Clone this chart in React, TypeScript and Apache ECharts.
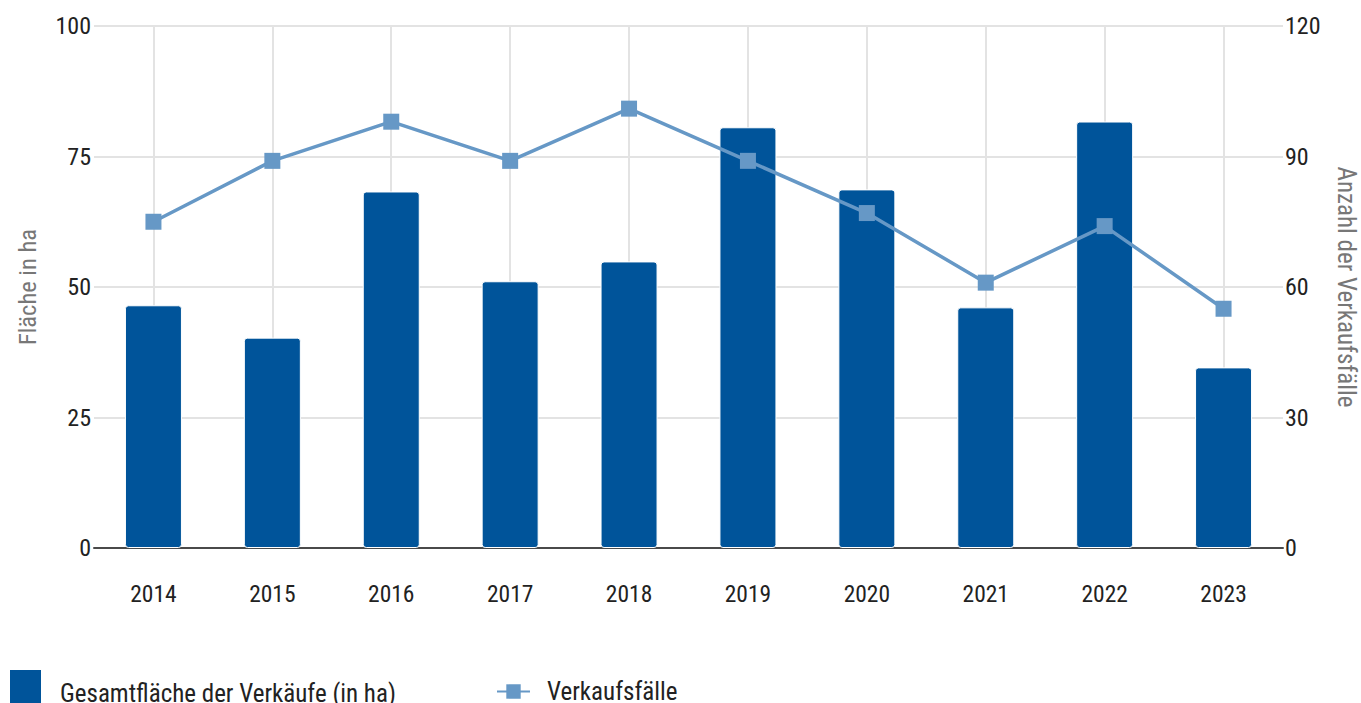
import React, { useEffect, useRef } from "react";
import * as echarts from "echarts";

const years = ["2014", "2015", "2016", "2017", "2018", "2019", "2020", "2021", "2022", "2023"];
const flaeche = [46.5, 40.3, 68.3, 51.1, 54.9, 80.6, 68.7, 46.1, 81.7, 34.6];
const faelle = [75, 89, 98, 89, 101, 89, 77, 61, 74, 55];
const leftTicks = { min: 0, max: 100, interval: 25 };
const rightTicks = { min: 0, max: 120, interval: 30 };

const FONT = "'Roboto Condensed', 'Liberation Sans Narrow', Roboto, sans-serif";

export default function App() {
  const ref = useRef<HTMLDivElement>(null);
  useEffect(() => {
    document.body.style.margin = "0";
    const chart = echarts.init(ref.current!, null, { renderer: "svg" });
    chart.setOption({
      animation: false,
      textStyle: { fontFamily: FONT },
      grid: { left: 94, right: 78, top: 26, bottom: 155, containLabel: false, outerBoundsMode: "none" },
      legend: [
        {
          data: [{ name: "Gesamtfläche der Verkäufe (in ha)", icon: "rect" }],
          left: 8,
          top: 668,
          padding: 0,
          itemWidth: 33,
          itemHeight: 48,
          itemGap: 20,
          textStyle: { fontSize: 25, color: "#222", fontFamily: FONT, padding: [0, 0, 0, 13] },
        },
        {
          data: ["Verkaufsfälle"],
          left: 496,
          top: 679,
          padding: 0,
          itemWidth: 33,
          itemHeight: 18,
          textStyle: { fontSize: 25, color: "#222", fontFamily: FONT, padding: [0, 0, 0, 12] },
        },
      ],
      xAxis: {
        type: "category",
        data: years,
        axisTick: { show: false },
        axisLine: { show: true, lineStyle: { color: "#4a4a4a", width: 2 } },
        axisLabel: { margin: 34, fontSize: 23.5, color: "#222", fontFamily: FONT },
        splitLine: { show: true, alignWithLabel: true, lineStyle: { color: "#e3e3e3", width: 2 } },
      },
      yAxis: [
        {
          type: "value",
          ...leftTicks,
          name: "Fläche in ha",
          nameLocation: "middle",
          nameGap: 54,
          nameTextStyle: { fontSize: 24.5, color: "#777", fontFamily: FONT },
          axisLine: { show: false },
          axisTick: { show: false },
          axisLabel: { margin: 3, fontSize: 24, color: "#222", fontFamily: FONT },
          splitLine: { show: true, lineStyle: { color: "#e3e3e3", width: 2 } },
        },
        {
          type: "value",
          ...rightTicks,
          name: "Anzahl der Verkaufsfälle",
          nameLocation: "middle",
          nameRotate: -90,
          nameGap: 51,
          nameTextStyle: { fontSize: 25, color: "#777", fontFamily: FONT },
          axisLine: { show: false },
          axisTick: { show: false },
          axisLabel: { margin: 2, fontSize: 24, color: "#222", fontFamily: FONT },
          splitLine: { show: false },
        },
      ],
      series: [
        {
          name: "Gesamtfläche der Verkäufe (in ha)",
          type: "bar",
          data: flaeche,
          barWidth: 57,
          yAxisIndex: 0,
          itemStyle: { color: "#00549a", borderColor: "#ffffff", borderWidth: 1, borderRadius: 3 },
        },
        {
          name: "Verkaufsfälle",
          type: "line",
          data: faelle,
          yAxisIndex: 1,
          symbol: "rect",
          symbolSize: 16,
          lineStyle: { color: "#6698c6", width: 3.5 },
          itemStyle: { color: "#6698c6" },
        },
      ],
    });
    return () => chart.dispose();
  }, []);
  return <div ref={ref} style={{ width: 1361, height: 703 }} />;
}
